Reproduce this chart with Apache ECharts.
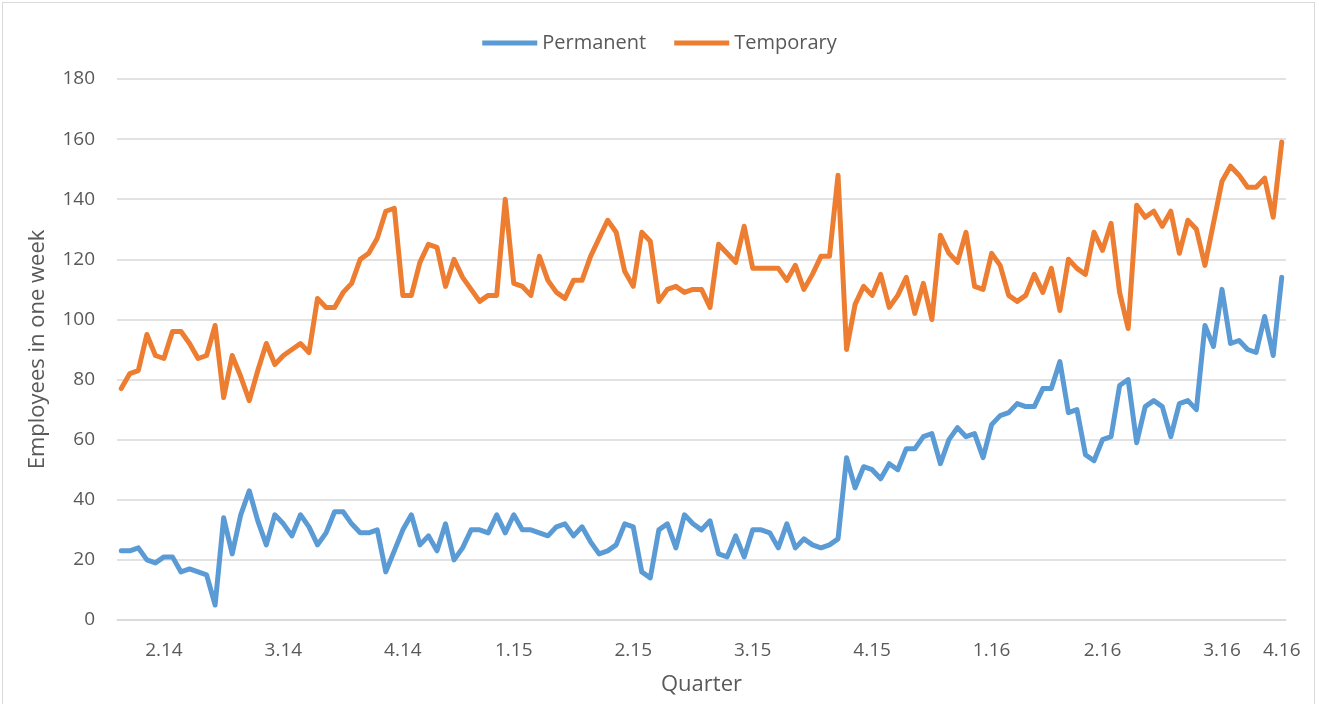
<!DOCTYPE html>
<html>
<head>
<meta charset="utf-8">
<script src="https://cdn.jsdelivr.net/npm/echarts@6/dist/echarts.min.js"></script>
<style>
  html, body { margin: 0; padding: 0; background: #fff; }
  #frame {
    position: absolute; left: 2px; top: 2px; width: 1313px; height: 710px;
    border: 1px solid #d9d9d9; box-sizing: border-box;
  }
  #chart { position: absolute; left: 0; top: 0; width: 1319px; height: 704px; }
</style>
</head>
<body>
<div id="frame"></div>
<div id="chart"></div>
<script>
// weekly headcount, one value per week
const permanent = [
  23, 23, 24, 20, 19, 21, 21, 16, 17, 16, 15, 5, 34, 22, 35, 43, 33, 25, 35, 32,
  28, 35, 31, 25, 29, 36, 36, 32, 29, 29, 30, 16, 23, 30, 35, 25, 28, 23, 32, 20,
  24, 30, 30, 29, 35, 29, 35, 30, 30, 29, 28, 31, 32, 28, 31, 26, 22, 23, 25, 32,
  31, 16, 14, 30, 32, 24, 35, 32, 30, 33, 22, 21, 28, 21, 30, 30, 29, 24, 32, 24,
  27, 25, 24, 25, 27, 54, 44, 51, 50, 47, 52, 50, 57, 57, 61, 62, 52, 60, 64, 61,
  62, 54, 65, 68, 69, 72, 71, 71, 77, 77, 86, 69, 70, 55, 53, 60, 61, 78, 80, 59,
  71, 73, 71, 61, 72, 73, 70, 98, 91, 110, 92, 93, 90, 89, 101, 88, 114
];
const temporary = [
  77, 82, 83, 95, 88, 87, 96, 96, 92, 87, 88, 98, 74, 88, 81, 73, 83, 92, 85, 88,
  90, 92, 89, 107, 104, 104, 109, 112, 120, 122, 127, 136, 137, 108, 108, 119, 125, 124, 111, 120,
  114, 110, 106, 108, 108, 140, 112, 111, 108, 121, 113, 109, 107, 113, 113, 121, 127, 133, 129, 116,
  111, 129, 126, 106, 110, 111, 109, 110, 110, 104, 125, 122, 119, 131, 117, 117, 117, 117, 113, 118,
  110, 115, 121, 121, 148, 90, 105, 111, 108, 115, 104, 108, 114, 102, 112, 100, 128, 122, 119, 129,
  111, 110, 122, 118, 108, 106, 108, 115, 109, 117, 103, 120, 117, 115, 129, 123, 132, 109, 97, 138,
  134, 136, 131, 136, 122, 133, 130, 118, 132, 146, 151, 148, 144, 144, 147, 134, 159
];
const tickLabels = ['2.14', '3.14', '4.14', '1.15', '2.15', '3.15', '4.15', '1.16', '2.16', '3.16', '4.16'];
const tickWeeks = [5, 19, 33, 46, 60, 74, 88, 102, 115, 129, 136];
const weeks = permanent.map((v, i) => String(i + 1));

const textColor = '#595959';
const fontFamily = '"Open Sans", "Noto Sans", sans-serif';

let myChart = echarts.init(document.getElementById('chart'));
let option = {
  animation: false,
  textStyle: { fontFamily: fontFamily },
  legend: {
    top: 28,
    left: 'center',
    icon: 'rect',
    itemWidth: 55,
    itemHeight: 5,
    itemGap: 28,
    textStyle: { color: textColor, fontSize: 20, fontFamily: fontFamily },
    data: ['Permanent', 'Temporary']
  },
  grid: {
    left: 117,
    right: 33,
    top: 79,
    bottom: 84,
    containLabel: false,
    outerBoundsMode: 'none'
  },
  xAxis: {
    type: 'category',
    data: weeks,
    boundaryGap: true,
    name: 'Quarter',
    nameLocation: 'middle',
    nameGap: 54,
    nameTextStyle: { color: textColor, fontSize: 22, fontFamily: fontFamily },
    axisLine: { lineStyle: { color: '#d9d9d9', width: 1.5 } },
    axisTick: { show: false },
    splitLine: { show: false },
    axisLabel: {
      color: textColor,
      fontSize: 19,
      margin: 21,
      hideOverlap: false,
      interval: (idx) => tickWeeks.indexOf(idx) >= 0,
      formatter: (val, idx) => {
        let k = tickWeeks.indexOf(idx);
        return k >= 0 ? tickLabels[k] : '';
      }
    }
  },
  yAxis: {
    type: 'value',
    min: 0,
    max: 180,
    interval: 20,
    name: 'Employees in one week',
    nameLocation: 'middle',
    nameGap: 68,
    nameTextStyle: { color: textColor, fontSize: 22, fontFamily: fontFamily },
    axisLine: { show: false },
    axisTick: { show: false },
    axisLabel: { color: textColor, fontSize: 19, margin: 22 },
    splitLine: { lineStyle: { color: '#d9d9d9', width: 1.5 } }
  },
  series: [
    {
      name: 'Permanent',
      type: 'line',
      data: permanent,
      symbol: 'none',
      color: '#5B9BD5',
      lineStyle: { width: 5, cap: 'round', join: 'round' }
    },
    {
      name: 'Temporary',
      type: 'line',
      data: temporary,
      symbol: 'none',
      color: '#ED7D31',
      lineStyle: { width: 5, cap: 'round', join: 'round' }
    }
  ]
};
option && myChart.setOption(option);
</script>
</body>
</html>
